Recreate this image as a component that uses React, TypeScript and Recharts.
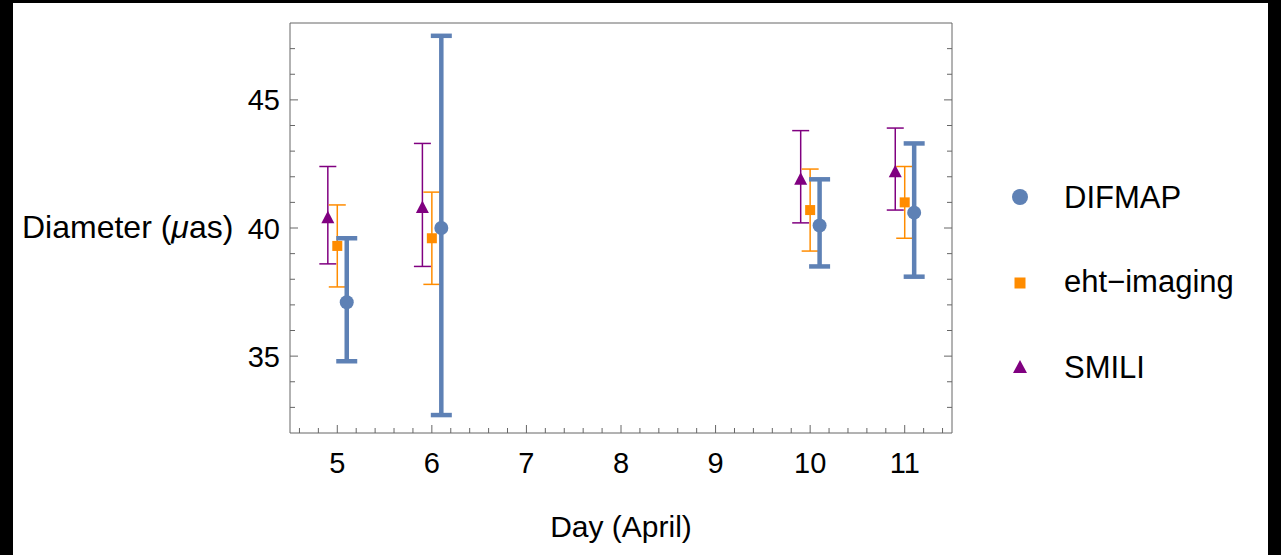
import React from 'react';
import {
  ComposedChart,
  Scatter,
  ErrorBar,
  XAxis,
  YAxis,
  Legend,
} from 'recharts';

/* ------------------------------------------------------------------ */
/*  Data                                         */
/* ------------------------------------------------------------------ */

const DAYS = [5, 6, 10, 11];

const DIFMAP_VALUES = [37.1, 40.0, 40.1, 40.6];
const DIFMAP_LOW = [34.8, 32.7, 38.5, 38.1];
const DIFMAP_HIGH = [39.6, 47.5, 41.9, 43.3];

const EHT_VALUES = [39.3, 39.6, 40.7, 41.0];
const EHT_LOW = [37.7, 37.8, 39.1, 39.6];
const EHT_HIGH = [40.9, 41.4, 42.3, 42.4];

const SMILI_VALUES = [40.4, 40.8, 41.9, 42.2];
const SMILI_LOW = [38.6, 38.5, 40.2, 40.7];
const SMILI_HIGH = [42.4, 43.3, 43.8, 43.9];

const X_LABELS = [5, 6, 7, 8, 9, 10, 11];
const Y_LABELS = [35, 40, 45];

/* ------------------------------------------------------------------ */
/*  Styling                                                            */
/* ------------------------------------------------------------------ */

const BLUE = '#5e81b5';
const ORANGE = '#ff8c00';
const PURPLE = '#800080';
const FRAME = '#666666';
const FONT = '"Liberation Sans", Arial, sans-serif';
const DODGE = 0.1;

const X_DOMAIN: [number, number] = [4.5, 11.5];
const Y_DOMAIN: [number, number] = [32, 48];

// minor ticks every 0.2 on x, every 1 on y
const X_TICKS: number[] = [];
for (let k = 46; k <= 114; k += 2) X_TICKS.push(k / 10);
const Y_TICKS: number[] = [];
for (let k = 33; k <= 47; k += 1) Y_TICKS.push(k);

function buildRows(values: number[], low: number[], high: number[], shift: number) {
  return DAYS.map((d, i) => ({
    x: d + shift,
    y: values[i],
    err: [values[i] - low[i], high[i] - values[i]],
  }));
}

const smiliRows = buildRows(SMILI_VALUES, SMILI_LOW, SMILI_HIGH, -DODGE);
const ehtRows = buildRows(EHT_VALUES, EHT_LOW, EHT_HIGH, 0);
const difmapRows = buildRows(DIFMAP_VALUES, DIFMAP_LOW, DIFMAP_HIGH, DODGE);

/* ------------------------------------------------------------------ */
/*  Frame ticks (all pointing inward, Mathematica style)               */
/* ------------------------------------------------------------------ */

const isMajorX = (v: number) => X_LABELS.includes(Math.round(v * 10) / 10);
const isMajorY = (v: number) => Y_LABELS.includes(v);

function BottomTick({ x, y, payload }: any) {
  const major = isMajorX(payload.value);
  return (
    <g>
      <line x1={x} y1={y} x2={x} y2={y - (major ? 8 : 5)} stroke={FRAME} />
      {major && (
        <text x={x} y={y + 40} textAnchor="middle" fontSize={29} fontFamily={FONT} fill="#000">
          {Math.round(payload.value)}
        </text>
      )}
    </g>
  );
}

function TopTick({ x, y, payload }: any) {
  const major = isMajorX(payload.value);
  return <line x1={x} y1={y} x2={x} y2={y + (major ? 8 : 5)} stroke={FRAME} />;
}

function LeftTick({ x, y, payload }: any) {
  const major = isMajorY(payload.value);
  return (
    <g>
      <line x1={x} y1={y} x2={x + (major ? 8 : 5)} y2={y} stroke={FRAME} />
      {major && (
        <text x={x - 10} y={y + 10.5} textAnchor="end" fontSize={29} fontFamily={FONT} fill="#000">
          {payload.value}
        </text>
      )}
    </g>
  );
}

function RightTick({ x, y, payload }: any) {
  const major = isMajorY(payload.value);
  return <line x1={x} y1={y} x2={x - (major ? 8 : 5)} y2={y} stroke={FRAME} />;
}

/* ------------------------------------------------------------------ */
/*  Markers                                                            */
/* ------------------------------------------------------------------ */

const circleShape = (p: any) => <circle cx={p.cx} cy={p.cy} r={7} fill={BLUE} />;
const squareShape = (p: any) => (
  <rect x={p.cx - 5} y={p.cy - 5} width={10} height={10} fill={ORANGE} />
);
const triangleShape = (p: any) => (
  <polygon
    points={`${p.cx},${p.cy - 7} ${p.cx + 6.5},${p.cy + 5.5} ${p.cx - 6.5},${p.cy + 5.5}`}
    fill={PURPLE}
  />
);

function LegendBox() {
  return (
    <svg width={280} height={220} style={{ display: 'block' }}>
      <circle cx={30} cy={27} r={8} fill={BLUE} />
      <text x={74} y={38} fontSize={31} fontFamily={FONT} fill="#000">DIFMAP</text>
      <rect x={24.5} y={107.5} width={11} height={11} fill={ORANGE} />
      <text x={74} y={122} fontSize={31} fontFamily={FONT} fill="#000">eht−imaging</text>
      <polygon points="30,190 37,203 23,203" fill={PURPLE} />
      <text x={74} y={208} fontSize={31} fontFamily={FONT} fill="#000">SMILI</text>
    </svg>
  );
}

function YLabel() {
  return (
    <text x={9} y={235} fontSize={32} fontFamily={FONT} fill="#000">
      Diameter (<tspan fontStyle="italic">μ</tspan>as)
    </text>
  );
}

/* ------------------------------------------------------------------ */
/*  App                                                                */
/* ------------------------------------------------------------------ */

export default function App() {
  return (
    <div style={{ position: 'fixed', left: 0, top: 0, width: 1281, height: 555, background: '#000' }}>
      <div style={{ position: 'absolute', left: 13, top: 3, width: 1255, height: 552, background: '#fff' }}>
        <ComposedChart width={1255} height={552} margin={{ top: 0, right: 0, bottom: 0, left: 0 }}>
          <XAxis
            type="number"
            dataKey="x"
            domain={X_DOMAIN}
            allowDataOverflow
            ticks={X_TICKS}
            interval={0}
            height={122}
            tickSize={0}
            tickMargin={0}
            tickLine={false}
            axisLine={{ stroke: FRAME }}
            tick={<BottomTick />}
            label={{
              value: 'Day (April)',
              position: 'insideBottom',
              offset: 18,
              style: { fontSize: 30, fontFamily: FONT, fill: '#000' },
            }}
          />
          <XAxis
            xAxisId="top"
            orientation="top"
            type="number"
            domain={X_DOMAIN}
            allowDataOverflow
            ticks={X_TICKS}
            interval={0}
            height={20}
            tickSize={0}
            tickMargin={0}
            tickLine={false}
            axisLine={{ stroke: FRAME }}
            tick={<TopTick />}
          />
          <YAxis
            type="number"
            dataKey="y"
            domain={Y_DOMAIN}
            allowDataOverflow
            ticks={Y_TICKS}
            interval={0}
            width={277}
            tickSize={0}
            tickMargin={0}
            tickLine={false}
            axisLine={{ stroke: FRAME }}
            tick={<LeftTick />}
            label={{ content: <YLabel /> }}
          />
          <YAxis
            yAxisId="right"
            orientation="right"
            type="number"
            domain={Y_DOMAIN}
            allowDataOverflow
            ticks={Y_TICKS}
            interval={0}
            width={316}
            tickSize={0}
            tickMargin={0}
            tickLine={false}
            axisLine={{ stroke: FRAME }}
            tick={<RightTick />}
          />
          <Legend
            layout="vertical"
            align="center"
            verticalAlign="middle"
            width={280}
            height={220}
            wrapperStyle={{ left: 977, top: 167 }}
            content={() => <LegendBox />}
          />
          <Scatter name="SMILI" data={smiliRows} shape={triangleShape} isAnimationActive={false}>
            <ErrorBar dataKey="err" direction="y" width={8.5} strokeWidth={1.5} stroke={PURPLE} isAnimationActive={false} />
          </Scatter>
          <Scatter name="eht-imaging" data={ehtRows} shape={squareShape} isAnimationActive={false}>
            <ErrorBar dataKey="err" direction="y" width={8.5} strokeWidth={1.5} stroke={ORANGE} isAnimationActive={false} />
          </Scatter>
          <Scatter name="DIFMAP" data={difmapRows} shape={circleShape} isAnimationActive={false}>
            <ErrorBar dataKey="err" direction="y" width={10.5} strokeWidth={4.5} stroke={BLUE} isAnimationActive={false} />
          </Scatter>
        </ComposedChart>
      </div>
    </div>
  );
}
